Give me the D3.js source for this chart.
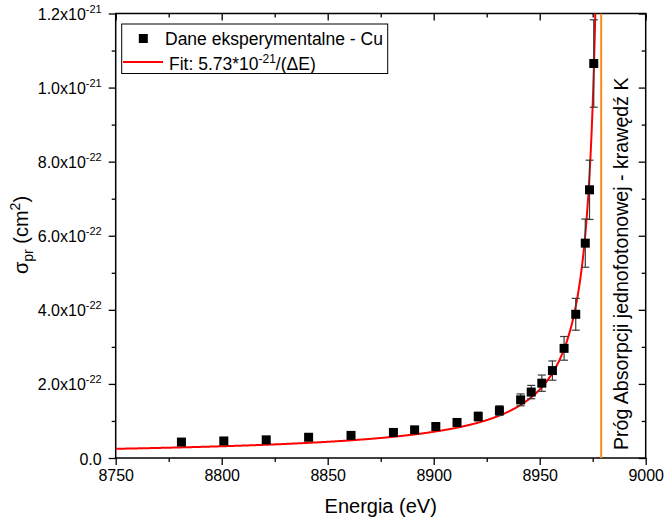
<!DOCTYPE html>
<html>
<head>
<meta charset="utf-8">
<script src="https://cdn.jsdelivr.net/npm/d3@7"></script>
<style>
  body { margin: 0; background: #fff; }
  svg { display: block; }
  text { font-family: "Liberation Sans", Arial, sans-serif; fill: #000; }
</style>
</head>
<body>
<svg id="chart" width="665" height="521"></svg>
<script>
// Measured photo-absorption cross-section for Cu near the K edge
const energy = [8781, 8801, 8821, 8841, 8861, 8881, 8891, 8901, 8911, 8921, 8931,
                8941, 8946, 8951, 8956, 8961.5, 8967, 8971.5, 8973.5, 8975.5];
const sigma = [4.3e-23, 4.6e-23, 4.9e-23, 5.6e-23, 6.1e-23, 6.9e-23, 7.6e-23, 8.5e-23,
               9.6e-23, 1.12e-22, 1.28e-22, 1.57e-22, 1.78e-22, 2.02e-22, 2.36e-22,
               2.96e-22, 3.88e-22, 5.80e-22, 7.24e-22, 1.065e-21];
const sigmaErr = [0.05e-22, 0.05e-22, 0.05e-22, 0.06e-22, 0.07e-22, 0.07e-22, 0.08e-22,
                  0.09e-22, 0.10e-22, 0.12e-22, 0.13e-22, 0.16e-22, 0.18e-22, 0.22e-22,
                  0.26e-22, 0.32e-22, 0.43e-22, 0.65e-22, 0.80e-22, 1.18e-22];

// Fit: sigma = A / (E0 - E)
const fitA = 5.73e-21;
const fitEdge = 8981;
// Single-photon absorption threshold (K edge)
const kEdge = 8979;

const xTicks = [8750, 8800, 8850, 8900, 8950, 9000];
const xTickLabels = ["8750", "8800", "8850", "8900", "8950", "9000"];
const xMinorTicks = [8775, 8825, 8875, 8925, 8975];
const yTicks = [0, 2e-22, 4e-22, 6e-22, 8e-22, 1.0e-21, 1.2e-21];
const yTickMantissa = ["0.0", "2.0", "4.0", "6.0", "8.0", "1.0", "1.2"];
const yTickExponent = ["", "-22", "-22", "-22", "-22", "-21", "-21"];
const yMinorTicks = [1e-22, 3e-22, 5e-22, 7e-22, 9e-22, 1.1e-21];

const legendLabels = ["Dane eksperymentalne - Cu", "Fit: 5.73*10", "-21", "/(\u0394E)"];
const edgeLabel = "Pr\u00f3g Absorpcji jednofotonowej - kraw\u0119d\u017a K";

const plotLeft = 115.7, plotRight = 645.7, plotTop = 13.5, plotBottom = 458;
const x = d3.scaleLinear().domain([8750, 9000]).range([plotLeft, plotRight]);
const y = d3.scaleLinear().domain([0, 1.2e-21]).range([plotBottom, plotTop]);

const svg = d3.select("#chart");

svg.append("defs").append("clipPath").attr("id", "plotClip")
  .append("rect").attr("x", plotLeft).attr("y", plotTop)
  .attr("width", plotRight - plotLeft).attr("height", plotBottom - plotTop);

// Axes: outward ticks on bottom/left, inward on top/right
function styleAxis(g) {
  g.select(".domain").remove();
  g.selectAll(".tick line").attr("stroke", "#000").attr("stroke-width", 1.3);
}
const tickFont = 16;

svg.append("g").attr("transform", `translate(0,${plotBottom})`)
  .call(d3.axisBottom(x).tickValues(xTicks).tickSize(7).tickPadding(5)
    .tickFormat((d, i) => xTickLabels[i]))
  .call(styleAxis)
  .call(g => g.selectAll(".tick text").attr("font-size", tickFont)
    .attr("font-family", '"Liberation Sans", Arial, sans-serif').attr("fill", "#000"));
svg.append("g").attr("transform", `translate(0,${plotBottom})`)
  .call(d3.axisBottom(x).tickValues(xMinorTicks).tickSize(4).tickFormat(""))
  .call(styleAxis);

svg.append("g").attr("transform", `translate(0,${plotTop})`)
  .call(d3.axisBottom(x).tickValues(xTicks).tickSize(7).tickFormat(""))
  .call(styleAxis);
svg.append("g").attr("transform", `translate(0,${plotTop})`)
  .call(d3.axisBottom(x).tickValues(xMinorTicks).tickSize(4).tickFormat(""))
  .call(styleAxis);

const yAxisG = svg.append("g").attr("transform", `translate(${plotLeft},0)`)
  .call(d3.axisLeft(y).tickValues(yTicks).tickSize(7).tickFormat(""))
  .call(styleAxis);
svg.append("g").attr("transform", `translate(${plotLeft},0)`)
  .call(d3.axisLeft(y).tickValues(yMinorTicks).tickSize(4).tickFormat(""))
  .call(styleAxis);

svg.append("g").attr("transform", `translate(${plotRight},0)`)
  .call(d3.axisLeft(y).tickValues(yTicks).tickSize(7).tickFormat(""))
  .call(styleAxis);
svg.append("g").attr("transform", `translate(${plotRight},0)`)
  .call(d3.axisLeft(y).tickValues(yMinorTicks).tickSize(4).tickFormat(""))
  .call(styleAxis);

// y tick labels in "m.mx10^e" form
yAxisG.selectAll(".tick").each(function (d, i) {
  const t = d3.select(this).append("text")
    .attr("x", -14).attr("y", 6)
    .attr("text-anchor", "end").attr("font-size", tickFont);
  t.append("tspan").text(yTickExponent[i] ? yTickMantissa[i] + "x10" : yTickMantissa[i]);
  if (yTickExponent[i]) {
    t.append("tspan").attr("dy", -7).attr("font-size", 11).text(yTickExponent[i]);
  }
});

// Frame
svg.append("rect").attr("x", plotLeft).attr("y", plotTop)
  .attr("width", plotRight - plotLeft).attr("height", plotBottom - plotTop)
  .attr("fill", "none").attr("stroke", "#000").attr("stroke-width", 1.5);

const plot = svg.append("g").attr("clip-path", "url(#plotClip)");

// K-edge threshold line
plot.append("line")
  .attr("x1", x(kEdge)).attr("x2", x(kEdge))
  .attr("y1", y(0)).attr("y2", y(1.2e-21))
  .attr("stroke", "#ff8a1c").attr("stroke-width", 2);

// Fit curve
const eMax = fitEdge - fitA / 1.25e-21;
const fitE = d3.range(8750, eMax, 0.25).concat([eMax]);
plot.append("path")
  .datum(fitE)
  .attr("fill", "none").attr("stroke", "#ff0000").attr("stroke-width", 2)
  .attr("d", d3.line().x(e => x(e)).y(e => y(fitA / (fitEdge - e))));

// Error bars
const pts = energy.map((e, i) => ({ e, s: sigma[i], err: sigmaErr[i] }));
const eb = svg.append("g").attr("stroke", "#3a3a3a").attr("stroke-width", 1.2);
pts.forEach(p => {
  const cx = x(p.e), y0 = y(p.s - p.err), y1 = y(p.s + p.err);
  eb.append("line").attr("x1", cx).attr("x2", cx).attr("y1", y0).attr("y2", y1);
  eb.append("line").attr("x1", cx - 4).attr("x2", cx + 4).attr("y1", y0).attr("y2", y0);
  eb.append("line").attr("x1", cx - 4).attr("x2", cx + 4).attr("y1", y1).attr("y2", y1);
});

// Data markers
svg.append("g").selectAll("rect").data(pts).join("rect")
  .attr("x", d => x(d.e) - 4.5).attr("y", d => y(d.s) - 4.5)
  .attr("width", 9).attr("height", 9).attr("fill", "#000");

// Legend
const lg = svg.append("g");
lg.append("rect").attr("x", 121.7).attr("y", 24).attr("width", 266).attr("height", 49.5)
  .attr("fill", "#fff").attr("stroke", "#000").attr("stroke-width", 1);
lg.append("rect").attr("x", 143.3 - 4.5).attr("y", 38.5 - 4.5).attr("width", 9).attr("height", 9)
  .attr("fill", "#000");
lg.append("text").attr("x", 165).attr("y", 44.5).attr("font-size", 17.5).text(legendLabels[0]);
lg.append("line").attr("x1", 123).attr("x2", 163).attr("y1", 62).attr("y2", 62)
  .attr("stroke", "#ff0000").attr("stroke-width", 2);
const ft = lg.append("text").attr("x", 169).attr("y", 69.5).attr("font-size", 17.5);
ft.append("tspan").text(legendLabels[1]);
ft.append("tspan").attr("dy", -7).attr("font-size", 12).text(legendLabels[2]);
ft.append("tspan").attr("dy", 7).text(legendLabels[3]);

// Threshold label
svg.append("text")
  .attr("transform", `translate(628,450) rotate(-90)`)
  .attr("text-anchor", "start").attr("font-size", 19.6)
  .text(edgeLabel);

// Axis titles
svg.append("text").attr("x", (plotLeft + plotRight) / 2).attr("y", 513)
  .attr("text-anchor", "middle").attr("font-size", 20).text("Energia (eV)");

const yt = svg.append("text")
  .attr("transform", `translate(28,235) rotate(-90)`)
  .attr("text-anchor", "middle").attr("font-size", 20);
yt.append("tspan").text("\u03c3");
yt.append("tspan").attr("dy", 5).attr("font-size", 14).text("pr");
yt.append("tspan").attr("dy", -5).text(" (cm");
yt.append("tspan").attr("dy", -8).attr("font-size", 14).text("2");
yt.append("tspan").attr("dy", 8).text(")");
</script>
</body>
</html>
